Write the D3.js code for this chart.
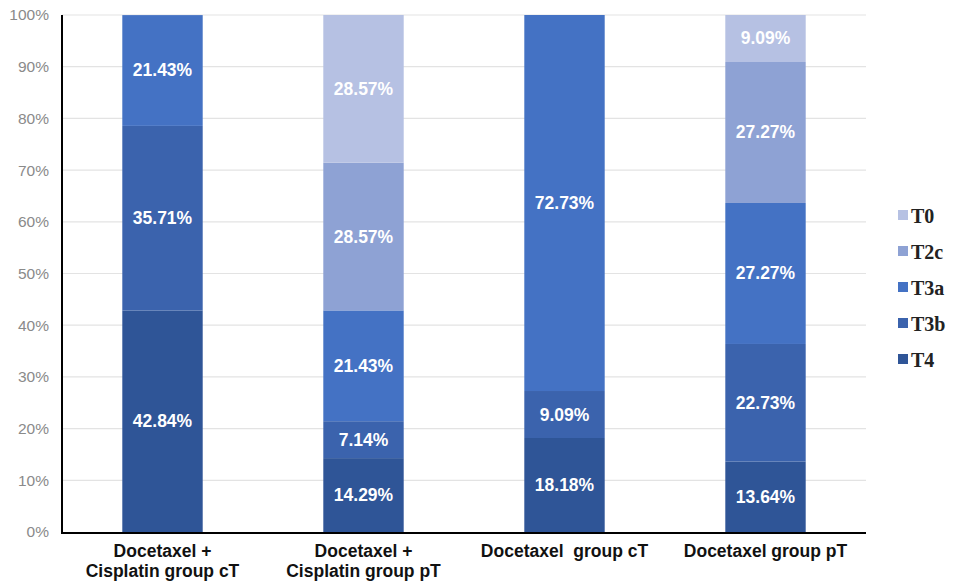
<!DOCTYPE html>
<html><head><meta charset="utf-8">
<script src="https://cdn.jsdelivr.net/npm/d3@7"></script>
<style>body{margin:0;background:#fff;}svg{display:block;}</style>
</head><body>
<svg id="c" width="953" height="584"></svg>
<script>
const categories = [["Docetaxel +","Cisplatin group cT"],["Docetaxel +","Cisplatin group pT"],["Docetaxel  group cT"],["Docetaxel group pT"]];
const seriesNames = ["T4","T3b","T3a","T2c","T0"];
const T4  = [42.84, 14.29, 18.18, 13.64];
const T3b = [35.71, 7.14, 9.09, 22.73];
const T3a = [21.43, 21.43, 72.73, 27.27];
const T2c = [0, 28.57, 0, 27.27];
const T0  = [0, 28.57, 0, 9.09];
const yTicks = [0,10,20,30,40,50,60,70,80,90,100];
const colors = {T0:"#b6c1e3",T2c:"#8ea2d4",T3a:"#4472c4",T3b:"#3b63ad",T4:"#2f5597"};

const svg = d3.select("#c");
const mLeft = 62, mRight = 866, mTop = 15, mBottom = 532;
const x = d3.scaleBand().domain(d3.range(categories.length)).range([mLeft,mRight]).paddingInner(0.6).paddingOuter(0.3);
const y = d3.scaleLinear().domain([0,100]).range([mBottom,mTop]);

// gridlines
svg.append("g").selectAll("line").data(yTicks.filter(d=>d>0)).join("line")
  .attr("x1",mLeft).attr("x2",mRight).attr("y1",d=>y(d)).attr("y2",d=>y(d))
  .attr("stroke","#e3e3e3").attr("stroke-width",1.2);

// y labels
const yAxis = d3.axisLeft(y).tickValues(yTicks).tickFormat(d=>d+"%").tickSize(0).tickPadding(13);
const ya = svg.append("g").attr("transform",`translate(${mLeft},0)`).call(yAxis);
ya.select(".domain").remove();
ya.selectAll("text").attr("fill","#8a8a8a").style("font-family","Liberation Sans, Arial, sans-serif").style("font-size","15.5px");

// stack
const data = categories.map((c,i)=>({i,T4:T4[i],T3b:T3b[i],T3a:T3a[i],T2c:T2c[i],T0:T0[i]}));
const stacked = d3.stack().keys(seriesNames)(data);
const g = svg.append("g");
stacked.forEach(s=>{
  s.forEach(d=>{
    const v = d[1]-d[0];
    if(v<=0) return;
    const y1 = y(Math.min(d[1],100)), y0 = y(d[0]);
    g.append("rect").attr("x",x(d.data.i)).attr("width",x.bandwidth())
      .attr("y",y1).attr("height",y0-y1)
      .attr("fill",colors[s.key]);
    g.append("text").attr("x",x(d.data.i)+x.bandwidth()/2).attr("y",(y0+y1)/2)
      .attr("text-anchor","middle").attr("dominant-baseline","central")
      .attr("fill","#fff").style("font-family","Liberation Sans, Arial, sans-serif")
      .style("font-size","17.5px").style("font-weight","bold")
      .text(v.toFixed(2)+"%");
  });
});

// axes lines
svg.append("line").attr("x1",mLeft).attr("x2",mLeft).attr("y1",mTop).attr("y2",mBottom+1).attr("stroke","#000").attr("stroke-width",2);
svg.append("line").attr("x1",mLeft-1).attr("x2",mRight).attr("y1",mBottom+1).attr("y2",mBottom+1).attr("stroke","#000").attr("stroke-width",2);

// x labels
const xl = svg.append("g");
categories.forEach((c,i)=>{
  const cx = x(i)+x.bandwidth()/2;
  const t = xl.append("text").attr("x",cx).attr("text-anchor","middle").attr("xml:space","preserve")
    .style("white-space","pre")
    .style("font-family","Liberation Sans, Arial, sans-serif").style("font-size","17.5px").style("font-weight","bold").attr("fill","#111");
  c.forEach((line,k)=>t.append("tspan").attr("x",cx).attr("y",557+k*20).text(line));
});

// legend
const legendKeys = ["T0","T2c","T3a","T3b","T4"];
const lg = svg.append("g");
legendKeys.forEach((k,i)=>{
  const yy = 215 + i*36;
  lg.append("rect").attr("x",898).attr("y",yy-5).attr("width",10).attr("height",10).attr("fill",colors[k]);
  lg.append("text").attr("x",911).attr("y",yy+1).attr("dominant-baseline","central")
    .style("font-family","Liberation Serif, Times New Roman, serif").style("font-size","20px").style("font-weight","bold")
    .attr("fill","#222").text(k);
});
</script>
</body></html>
